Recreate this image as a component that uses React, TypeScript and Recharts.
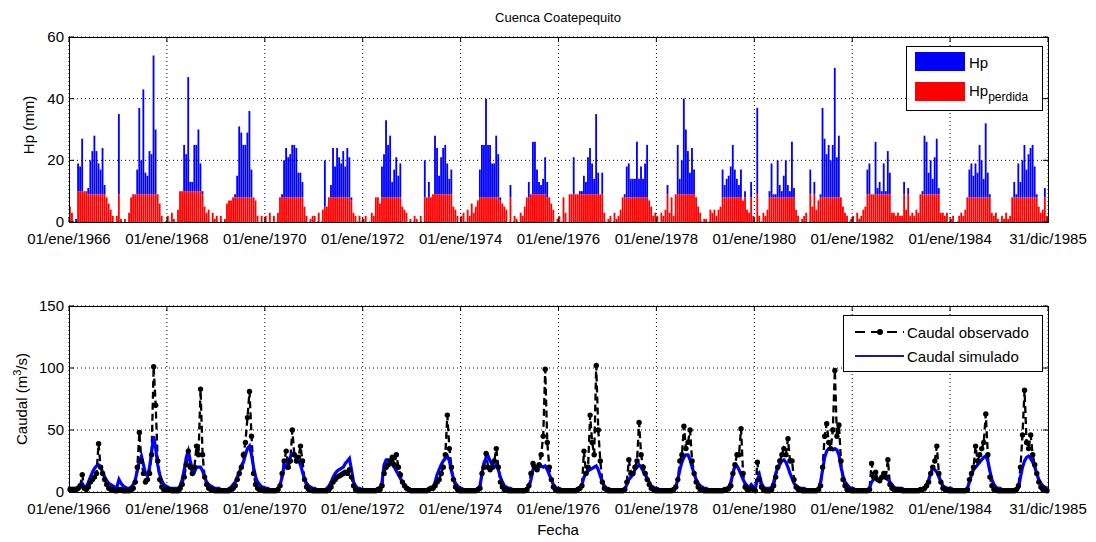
import React from 'react';
import { ComposedChart, Bar, Line, XAxis, YAxis, CartesianGrid } from 'recharts';

// Half-month periods (24 per year), 1966-1985
const hpTotal = [
  5,3,0,1,19,18,27,10,10,11,20,23,28,23,19,17,24,12,8,6,4,2,0,2, // 1966
  35,1,0,1,0,3,8,9,9,17,37,20,43,16,15,23,22,54,30,9,6,2,0,0, // 1967
  2,0,3,1,0,4,10,10,25,22,47,13,13,25,25,30,19,10,5,3,4,0,3,1, // 1968
  2,0,2,0,1,6,7,7,8,9,15,31,29,25,25,29,36,17,8,7,2,0,2,0, // 1969
  2,0,3,0,2,0,3,8,9,20,24,21,22,25,25,24,16,16,13,5,2,0,1,2, // 1970
  2,0,3,0,4,20,5,8,12,24,18,24,21,19,23,18,24,21,8,3,2,0,2,0, // 1971
  1,2,0,0,3,2,8,8,6,18,22,33,25,28,13,17,21,15,19,5,4,3,0,1, // 1972
  0,2,1,0,2,0,20,8,13,8,9,28,24,15,21,24,25,19,14,17,5,4,2,0, // 1973
  2,3,0,4,2,6,3,5,7,17,25,25,40,25,25,19,19,28,22,8,6,5,4,0, // 1974
  12,0,2,1,0,3,2,5,8,13,9,26,26,17,13,12,14,21,13,8,6,4,0,1, // 1975
  2,0,8,3,0,9,9,21,9,9,10,10,15,13,21,24,19,14,35,16,9,16,3,0, // 1976
  1,2,0,3,1,2,4,8,9,18,19,14,14,14,26,14,18,14,19,25,7,5,2,3, // 1977
  2,0,3,2,4,12,3,8,2,9,25,14,20,40,30,23,16,24,17,8,5,3,0,1, // 1978
  1,0,4,3,4,2,4,5,17,12,14,15,18,25,17,14,12,17,7,10,4,3,13,2, // 1979
  0,37,2,0,3,2,4,10,19,9,9,20,12,10,15,20,12,10,26,11,4,2,0,1, // 1980
  2,3,0,17,5,13,4,7,9,37,27,22,25,20,25,50,21,28,8,5,3,2,0,1, // 1981
  2,0,3,1,2,4,5,17,19,9,9,26,11,13,10,19,10,23,16,3,3,2,3,2, // 1982
  2,13,4,11,2,3,2,4,3,9,10,28,26,16,20,14,21,27,11,3,3,2,3,0, // 1983
  1,2,0,0,2,3,2,4,8,17,19,15,19,16,25,20,14,32,16,9,3,2,3,1, // 1984
  0,2,1,3,1,2,8,13,9,19,13,20,25,17,22,24,25,18,9,5,3,4,11,2, // 1985
];

const hpLost = [
  5,3,1,0,10,10,10,10,10,9,9,9,9,9,9,9,9,9,8,6,4,2,1,2, // 1966
  9,1,0,1,0,3,8,9,9,9,9,9,9,9,9,9,9,9,9,9,6,2,1,0, // 1967
  2,1,3,1,0,4,10,10,10,10,10,10,10,10,10,10,10,9,5,3,4,2,3,1, // 1968
  2,1,2,0,1,6,7,7,8,8,8,8,8,8,8,8,8,8,8,7,2,1,2,1, // 1969
  2,1,3,0,2,1,3,8,8,8,8,8,8,8,8,8,8,8,8,5,2,1,1,2, // 1970
  2,1,3,1,4,5,5,8,8,8,8,8,8,8,8,8,8,8,7,3,2,1,2,0, // 1971
  1,2,0,1,3,2,8,8,6,8,8,8,8,8,8,8,8,8,8,5,4,3,2,1, // 1972
  1,2,1,0,2,1,8,8,8,8,9,9,9,9,9,9,9,9,9,9,5,4,2,1, // 1973
  2,3,1,4,2,6,3,5,7,8,8,8,8,8,8,8,8,8,8,7,6,5,4,2, // 1974
  8,1,2,1,0,3,2,5,8,8,9,9,9,9,9,9,9,9,8,8,6,4,2,1, // 1975
  2,1,8,3,1,9,9,9,9,9,9,9,9,9,9,9,9,9,9,9,9,9,3,1, // 1976
  1,2,1,3,1,2,4,8,8,8,8,8,8,8,8,8,8,8,8,8,7,5,2,3, // 1977
  2,1,3,2,4,9,3,8,2,9,9,9,9,9,9,9,9,9,9,8,5,3,2,1, // 1978
  1,0,4,3,4,2,4,5,8,8,8,8,8,8,8,8,8,8,7,8,4,3,8,2, // 1979
  1,9,2,1,3,2,4,8,8,8,8,8,8,8,8,8,8,8,8,8,4,2,1,1, // 1980
  2,3,1,9,5,9,4,7,8,8,8,8,8,8,8,8,8,8,8,5,3,2,2,1, // 1981
  2,1,3,1,2,4,5,9,9,9,9,9,9,9,9,9,9,9,9,3,3,2,3,2, // 1982
  2,9,4,9,2,3,2,4,3,9,9,9,9,9,9,9,9,9,9,3,3,2,3,1, // 1983
  1,2,1,0,2,3,2,4,8,8,8,8,8,8,8,8,8,8,8,8,3,2,3,1, // 1984
  1,2,1,3,1,2,8,8,8,8,8,8,8,8,8,8,8,8,8,5,3,4,8,2, // 1985
];

const qObs = [
  2,2,2,2,3,5,14,3,2,4,8,10,12,15,39,20,15,10,6,3,2,2,1,1, // 1966
  2,2,1,1,1,1,2,3,8,20,48,25,15,8,10,15,30,101,70,25,10,4,2,2, // 1967
  2,2,1,1,1,1,3,6,12,22,33,20,15,20,37,30,83,30,12,6,3,2,2,1, // 1968
  1,1,1,1,1,1,1,2,3,5,10,15,20,30,40,60,81,45,15,6,3,2,2,1, // 1969
  1,1,1,1,1,1,2,5,15,25,33,20,25,50,30,25,28,37,25,10,4,2,2,1, // 1970
  1,1,1,1,1,1,1,2,4,8,10,12,13,14,15,16,15,18,12,5,2,1,1,1, // 1971
  1,1,1,1,1,1,1,2,2,5,15,20,22,25,28,22,30,20,14,8,5,3,2,1, // 1972
  1,1,1,1,1,1,1,1,2,3,3,5,8,10,15,20,30,62,35,20,10,4,2,1, // 1973
  1,1,1,1,1,1,1,1,2,3,15,20,31,20,18,20,25,35,20,8,4,2,2,1, // 1974
  1,1,1,1,1,1,1,1,2,5,15,23,20,18,22,30,45,99,40,20,10,4,2,1, // 1975
  1,1,1,1,1,1,1,1,1,2,3,5,33,15,20,62,40,30,102,50,25,8,3,2, // 1976
  1,1,1,1,1,1,1,1,2,8,26,15,15,20,25,56,30,20,15,10,6,3,2,1, // 1977
  1,1,1,1,1,1,1,1,2,4,10,25,30,53,35,40,50,25,15,8,4,2,2,1, // 1978
  1,1,1,1,1,1,1,1,1,2,2,3,5,15,22,30,30,51,15,4,2,2,3,2, // 1979
  1,24,10,4,2,1,1,1,2,5,12,20,25,30,35,30,43,25,25,10,4,2,2,1, // 1980
  1,1,1,1,1,1,1,2,5,20,45,55,40,35,50,98,45,54,25,10,5,2,2,1, // 1981
  1,1,1,1,1,1,1,1,2,23,12,16,10,9,12,15,12,26,6,3,2,2,2,2, // 1982
  1,1,1,1,1,1,1,1,1,2,2,3,5,8,15,20,25,37,15,8,3,2,2,1, // 1983
  1,1,1,1,1,1,1,1,2,10,15,20,37,25,30,35,40,63,30,12,5,2,2,1, // 1984
  1,1,1,1,1,1,1,1,2,5,20,46,82,40,35,46,30,22,15,8,4,2,2,1, // 1985
];

const qSim = [
  3,3,3,3,3,4,7,4,4,8,12,16,19,21,22,20,16,12,9,7,6,5,4,4, // 1966
  10,7,5,4,3,3,4,6,10,17,25,29,22,15,13,20,32,45,35,22,14,9,6,5, // 1967
  4,3,3,3,3,3,5,10,18,28,33,25,18,16,20,20,20,17,12,8,6,5,4,3, // 1968
  3,3,2,2,2,2,3,4,6,8,12,16,20,24,30,35,37,30,20,12,8,6,4,4, // 1969
  3,3,2,2,2,2,3,6,12,22,20,25,28,31,30,27,25,22,16,10,7,5,4,3, // 1970
  3,2,2,2,2,2,3,5,8,12,15,17,18,19,20,23,25,27,18,8,5,3,3,2, // 1971
  2,2,2,2,2,2,2,3,4,8,22,26,26,24,22,20,17,14,11,8,5,4,3,2, // 1972
  2,2,2,2,2,2,2,2,3,3,4,8,14,18,22,25,27,29,25,17,11,7,5,3, // 1973
  3,2,2,2,2,2,2,2,3,5,15,24,27,29,25,22,20,22,18,12,8,5,4,3, // 1974
  3,2,2,2,2,2,2,2,3,4,10,18,21,20,20,21,20,21,18,14,10,6,4,3, // 1975
  3,2,2,2,2,2,2,2,2,3,3,6,12,15,17,18,19,20,21,18,13,8,5,3, // 1976
  3,2,2,2,2,2,2,2,2,6,10,12,14,18,20,22,20,17,14,11,8,5,4,3, // 1977
  3,2,2,2,2,2,2,2,3,4,10,18,24,28,30,30,26,20,15,10,7,5,4,3, // 1978
  3,2,2,2,2,2,2,2,2,2,3,4,8,15,21,21,18,14,10,7,5,4,6,4, // 1979
  3,10,14,7,4,3,3,3,4,8,15,20,22,25,26,24,20,15,11,7,5,4,3,3, // 1980
  3,2,2,2,2,2,2,3,8,18,28,33,35,35,34,35,34,30,20,13,8,6,4,3, // 1981
  3,2,2,2,2,2,2,2,3,8,10,11,10,10,11,12,11,10,8,6,4,3,3,3, // 1982
  3,2,2,2,2,2,2,2,2,2,2,3,6,10,15,19,18,16,12,8,5,4,3,3, // 1983
  3,2,2,2,2,2,2,2,3,8,14,18,20,22,24,26,28,29,25,17,10,6,4,3, // 1984
  3,2,2,2,2,2,2,2,2,3,12,20,25,28,29,27,24,20,15,10,7,5,4,3, // 1985
];

const xTicks = [0, 48, 96, 144, 192, 240, 288, 336, 384, 432, 480];
const xTickLabels = [
  '01/ene/1966', '01/ene/1968', '01/ene/1970', '01/ene/1972', '01/ene/1974',
  '01/ene/1976', '01/ene/1978', '01/ene/1980', '01/ene/1982', '01/ene/1984', '31/dic/1985',
];
const hpTicks = [0, 20, 40, 60];
const qTicks = [0, 50, 100, 150];

const rainData = hpTotal.map((v, i) => ({
  t: i + 0.5,
  perdida: Math.min(hpLost[i], v),
  exceso: Math.max(0, v - hpLost[i]),
}));
const flowData = qObs.map((v, i) => ({ t: i + 0.5, obs: v, sim: qSim[i] }));

const FONT = '"Liberation Sans", Arial, Helvetica, sans-serif';
const PLOT_L = 69;
const PLOT_R = 1048;

const makeXTick = (top: number, bottom: number) => (props: any) => {
  const { x, payload } = props;
  const i = xTicks.indexOf(payload.value);
  return (
    <g>
      <line x1={x} x2={x} y1={bottom} y2={bottom - 5} stroke="#000" />
      <line x1={x} x2={x} y1={top} y2={top + 5} stroke="#000" />
      <text x={x} y={bottom + 22} textAnchor="middle"
        fontSize={15} fontFamily={FONT} fill="#000">{xTickLabels[i]}</text>
    </g>
  );
};

const makeYTick = () => (props: any) => {
  const { y, payload } = props;
  return (
    <g>
      <line x1={PLOT_L} x2={PLOT_L + 5} y1={y} y2={y} stroke="#000" />
      <line x1={PLOT_R} x2={PLOT_R - 5} y1={y} y2={y} stroke="#000" />
      <text x={PLOT_L - 5} y={y + 5} textAnchor="end" fontSize={15} fontFamily={FONT} fill="#000">{payload.value}</text>
    </g>
  );
};

export default function App() {
  return (
    <div style={{ position: 'absolute', left: 0, top: 0, width: 1096, height: 542, background: '#fff', fontFamily: FONT }}>
      <div style={{ position: 'absolute', left: 0, top: 0 }}>
        <ComposedChart width={1096} height={250} data={rainData}
          margin={{ top: 37, right: 1096 - PLOT_R, bottom: 0, left: 19 }}>
          <CartesianGrid stroke="#000" strokeDasharray="1 3" />
          <XAxis dataKey="t" type="number" domain={[0, 480]} ticks={xTicks} interval={0}
            tick={makeXTick(37, 222)} tickLine={false} axisLine={false} height={28} />
          <YAxis type="number" domain={[0, 60]} ticks={hpTicks} interval={0} width={50}
            tick={makeYTick()} tickLine={false} axisLine={false} />
          <Bar dataKey="perdida" stackId="a" fill="#ff0000" barSize={2.1} isAnimationActive={false} />
          <Bar dataKey="exceso" stackId="a" fill="#0000ff" barSize={2.1} isAnimationActive={false} />
        </ComposedChart>
      </div>
      <div style={{ position: 'absolute', left: 0, top: 250 }}>
        <ComposedChart width={1096} height={292} data={flowData}
          margin={{ top: 56, right: 1096 - PLOT_R, bottom: 22, left: 19 }}>
          <CartesianGrid stroke="#000" strokeDasharray="1 3" />
          <XAxis dataKey="t" type="number" domain={[0, 480]} ticks={xTicks} interval={0}
            tick={makeXTick(56, 242)} tickLine={false} axisLine={false} height={28} />
          <YAxis type="number" domain={[0, 150]} ticks={qTicks} interval={0} width={50}
            tick={makeYTick()} tickLine={false} axisLine={false} />
          <Line dataKey="obs" type="linear" stroke="#000" strokeWidth={2.3} strokeDasharray="7 4"
            dot={{ r: 2.7, fill: '#000', stroke: '#000', strokeWidth: 0 }} isAnimationActive={false} />
          <Line dataKey="sim" type="linear" stroke="#0000ff" strokeWidth={3.2} dot={false} isAnimationActive={false} />
        </ComposedChart>
      </div>
      <svg width={1096} height={542} style={{ position: 'absolute', left: 0, top: 0, pointerEvents: 'none' }}
        fontFamily={FONT}>
        <text x={558} y={22} textAnchor="middle" fontSize={13} fill="#000">Cuenca Coatepequito</text>
        <rect x={PLOT_L + 0.5} y={37.5} width={PLOT_R - PLOT_L} height={185} fill="none" stroke="#000" />
        <rect x={PLOT_L + 0.5} y={306.5} width={PLOT_R - PLOT_L} height={186} fill="none" stroke="#000" />
        <text transform="translate(34,125) rotate(-90)" textAnchor="middle" fontSize={15} fill="#000">Hp (mm)</text>
        <text transform="translate(27,399) rotate(-90)" textAnchor="middle" fontSize={15} fill="#000">
          Caudal (m<tspan dy={-6} fontSize={11}>3</tspan><tspan dy={6}>/s)</tspan>
        </text>
        <text x={558} y={535} textAnchor="middle" fontSize={15} fill="#000">Fecha</text>
        {/* top legend */}
        <rect x={906.5} y={46.5} width={136} height={64} fill="#fff" stroke="#000" />
        <rect x={915} y={52} width={50} height={19} fill="#0000ff" />
        <rect x={915} y={82} width={50} height={19} fill="#ff0000" />
        <text x={969} y={68} fontSize={15} fill="#000">Hp</text>
        <text x={969} y={96} fontSize={15} fill="#000">Hp<tspan dy={5} fontSize={12}>perdida</tspan></text>
        {/* bottom legend */}
        <rect x={843.5} y={315.5} width={199} height={56} fill="#fff" stroke="#000" />
        <line x1={855} x2={904} y1={332} y2={332} stroke="#000" strokeWidth={2} strokeDasharray="10 6" />
        <circle cx={880} cy={332} r={3} fill="#000" />
        <text x={907} y={338} fontSize={15} fill="#000">Caudal observado</text>
        <line x1={855} x2={904} y1={356} y2={356} stroke="#1a1a9a" strokeWidth={2} />
        <text x={907} y={362} fontSize={15} fill="#000">Caudal simulado</text>
      </svg>
    </div>
  );
}
